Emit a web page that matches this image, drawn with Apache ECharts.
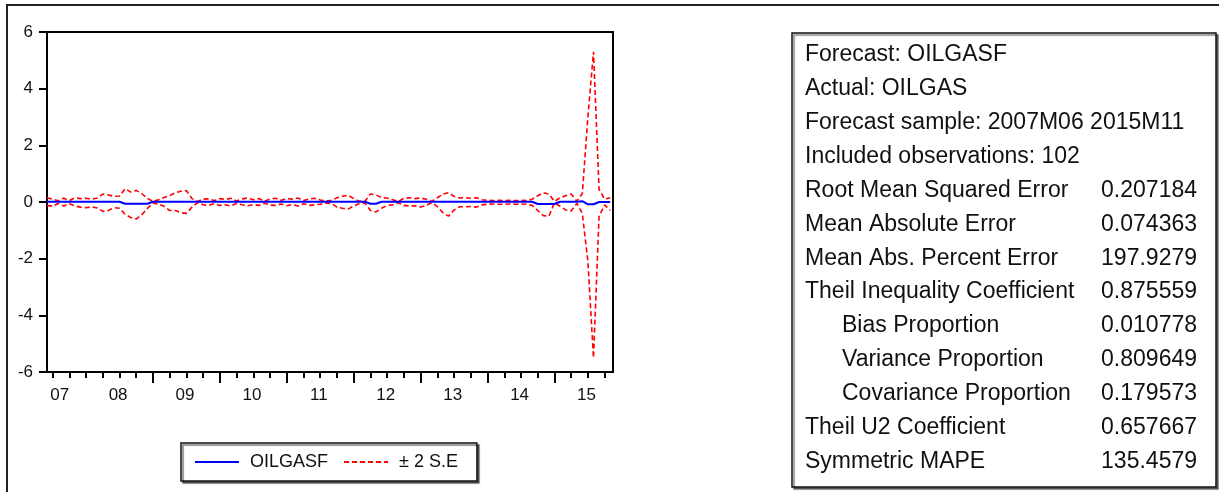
<!DOCTYPE html>
<html>
<head>
<meta charset="utf-8">
<script src="https://cdn.jsdelivr.net/npm/echarts@6/dist/echarts.min.js"></script>
<style>
html,body{margin:0;padding:0;background:#fff;}
#c{width:1219px;height:492px;}
</style>
</head>
<body>
<div id="c"></div>
<script>
// ---- data ----
// monthly observations 2007M06 .. 2015M11 (102), index 0 = 2007M06
const forecast = [
  0.01,0.01,0.01,0.01,0.01,0.01,0.01,0.01,0.01,0.01,
  0.01,0.01,0.01,0.01,-0.06,-0.06,-0.06,-0.06,-0.06,0.01,
  0.01,0.01,0.01,0.01,0.01,0.01,0.01,0.01,0.01,0.01,
  0.01,0.01,0.01,0.01,0.01,0.01,0.01,0.01,0.01,0.01,
  0.01,0.01,0.01,0.01,0.01,0.01,0.01,0.01,0.01,0.01,
  0.01,0.01,0.01,0.01,0.01,0.01,0.01,0.01,-0.06,-0.06,
  0.01,0.01,0.01,0.01,0.01,0.01,0.01,0.01,0.01,0.01,
  0.01,0.01,0.01,0.01,0.01,0.01,0.01,0.01,0.01,0.01,
  0.01,0.01,0.01,0.01,0.01,0.01,0.01,0.01,-0.07,-0.07,
  -0.07,-0.07,0.01,0.01,0.01,0.01,0.03,-0.08,-0.08,0.0,
  0.0,0.0
];
const upperSE = [
  0.15,0.10,0.04,0.13,0.05,0.15,0.12,0.13,0.10,0.14,
  0.28,0.25,0.20,0.21,0.47,0.35,0.41,0.30,0.13,0.02,
  0.08,0.16,0.22,0.33,0.38,0.40,0.12,0.02,0.10,0.11,
  0.05,0.12,0.09,0.13,0.04,0.11,0.14,0.08,0.12,0.03,
  0.10,0.13,0.06,0.12,0.10,0.14,0.05,0.11,0.13,0.07,
  0.04,0.05,0.15,0.20,0.24,0.12,0.03,0.02,0.28,0.25,
  0.15,0.14,0.08,0.02,0.13,0.15,0.12,0.14,0.10,0.02,
  0.15,0.28,0.33,0.20,0.14,0.15,0.13,0.15,0.08,0.06,
  0.05,0.06,0.05,0.06,0.05,0.06,0.05,0.10,0.22,0.33,
  0.28,0.02,0.15,0.22,0.28,0.03,0.30,3.00,5.30,0.45,
  0.10,0.15
];
const lowerSE = [
  -0.12,-0.15,-0.05,-0.14,-0.06,-0.14,-0.18,-0.20,-0.17,-0.21,
  -0.33,-0.30,-0.20,-0.22,-0.43,-0.55,-0.60,-0.45,-0.23,-0.03,
  -0.08,-0.15,-0.30,-0.30,-0.38,-0.40,-0.18,-0.02,-0.10,-0.12,
  -0.06,-0.12,-0.10,-0.14,-0.05,-0.10,-0.13,-0.09,-0.12,-0.04,
  -0.11,-0.12,-0.07,-0.13,-0.09,-0.14,-0.06,-0.12,-0.10,-0.08,
  -0.04,-0.05,-0.18,-0.22,-0.25,-0.14,-0.05,-0.03,-0.30,-0.35,
  -0.22,-0.12,-0.10,-0.03,-0.12,-0.14,-0.13,-0.18,-0.12,-0.02,
  -0.16,-0.38,-0.50,-0.28,-0.17,-0.17,-0.16,-0.18,-0.10,-0.08,
  -0.07,-0.08,-0.08,-0.07,-0.08,-0.07,-0.08,-0.12,-0.30,-0.48,
  -0.50,-0.03,-0.15,-0.28,-0.32,-0.05,-0.40,-2.10,-5.50,-0.50,
  -0.10,-0.30
];
// axis ticks / labels (month index positions)
const quarterTicks = [1,4,7,10,13,16,22,25,28,34,37,40,46,49,52,58,61,64,70,73,76,82,85,88,94,97,100];
const yearTicks = [19,31,43,55,67,79,91];
const yearLabels = ['07','08','09','10','11','12','13','14','15'];
const yearLabelPos = [2.3,12.75,24.75,36.75,48.75,60.75,72.75,84.75,96.75];
const yTicks = {min:-6, max:6, step:2};

const statLabels = ['Forecast: OILGASF','Actual: OILGAS','Forecast sample: 2007M06 2015M11','Included observations: 102',
  'Root Mean Squared Error','Mean Absolute Error','Mean Abs. Percent Error','Theil Inequality Coefficient',
  'Bias Proportion','Variance Proportion','Covariance Proportion','Theil U2 Coefficient','Symmetric MAPE'];
const statValues = ['','','','','0.207184','0.074363','197.9279','0.875559','0.010778','0.809649','0.179573','0.657667','135.4579'];
const statIndented = [false,false,false,false,false,false,false,false,true,true,true,false,false];

// ---- chart ----
const FONT = "'Liberation Sans', Arial, sans-serif";
const toXY = arr => arr.map((v, i) => [i, v]);
const labelMap = {};
yearLabelPos.forEach((p, k) => { labelMap[p] = yearLabels[k]; });

const statGraphics = [];
statLabels.forEach((t, k) => {
  const y = 55 + 33.86 * k;
  statGraphics.push({type:'text', x: statIndented[k] ? 842 : 805, y: y,
    style:{text:t, font:"23px " + FONT, fill:'#111', textAlign:'left', textVerticalAlign:'middle'}, silent:true});
  if (statValues[k]) statGraphics.push({type:'text', x: 1197, y: y,
    style:{text:statValues[k], font:"23px " + FONT, fill:'#111', textAlign:'right', textVerticalAlign:'middle'}, silent:true});
});

const axisColor = '#000';
const chart = echarts.init(document.getElementById('c'), null, {renderer:'canvas'});
chart.setOption({
  animation:false,
  backgroundColor:'#fff',
  grid:{left:47, right:606, top:32, bottom:120, show:true, borderColor:'#000', borderWidth:2, containLabel:false},
  xAxis:[
    {type:'value', min:0, max:101.5, position:'bottom', offset:0,
     axisLine:{show:true, onZero:false, lineStyle:{color:axisColor, width:2}},
     axisTick:{show:true, customValues:quarterTicks, length:6, lineStyle:{color:axisColor, width:2}},
     axisLabel:{show:false}, splitLine:{show:false}},
    {type:'value', min:0, max:101.5, position:'bottom', offset:0,
     axisLine:{show:false, onZero:false},
     axisTick:{show:true, customValues:yearTicks, length:11, lineStyle:{color:axisColor, width:2}},
     axisLabel:{show:true, customValues:yearLabelPos, formatter:v => labelMap[v] || '',
       margin:15, fontSize:17, fontFamily:FONT, color:'#111'},
     splitLine:{show:false}}
  ],
  yAxis:{type:'value', min:yTicks.min, max:yTicks.max, interval:yTicks.step,
    axisLine:{show:true, onZero:false, lineStyle:{color:axisColor, width:2}},
    axisTick:{show:true, length:8, lineStyle:{color:axisColor, width:2}},
    axisLabel:{margin:14, fontSize:17, fontFamily:FONT, color:'#111'},
    splitLine:{show:false}},
  legend:{
    data:['OILGASF','± 2 S.E'],
    left:181, top:443, orient:'horizontal',
    itemWidth:44, itemHeight:14, itemGap:15,
    padding:[10,19,10,13],
    backgroundColor:'#fff', borderColor:'#111', borderWidth:1.5,
    shadowColor:'rgba(0,0,0,0.55)', shadowOffsetX:2, shadowOffsetY:2, shadowBlur:1,
    itemStyle:{opacity:0},
    textStyle:{fontSize:18, fontFamily:FONT, color:'#111', padding:[0,0,0,6]}
  },
  series:[
    {name:'± 2 S.E', type:'line', data:toXY(upperSE), symbol:'none', showSymbol:false,
     color:'#ff0000', lineStyle:{color:'#ff0000', width:1.6, type:[5,3]}, z:2},
    {name:'± 2 S.E', type:'line', data:toXY(lowerSE), symbol:'none', showSymbol:false,
     color:'#ff0000', lineStyle:{color:'#ff0000', width:1.6, type:[5,3]}, z:2},
    {name:'OILGASF', type:'line', data:toXY(forecast), symbol:'none', showSymbol:false,
     color:'#0000ff', lineStyle:{color:'#0000ff', width:2}, z:3}
  ],
  graphic:[
    {type:'rect', shape:{x:7, y:5, width:1260, height:540}, style:{fill:'none', stroke:'#222', lineWidth:2}, silent:true, z:0},
    {type:'rect', shape:{x:792, y:33, width:424, height:454},
     style:{fill:'#fff', stroke:'#111', lineWidth:1.5, shadowColor:'rgba(0,0,0,0.5)', shadowOffsetX:2, shadowOffsetY:2, shadowBlur:1}, silent:true, z:1},
    ...statGraphics.map(g => Object.assign(g, {z:2}))
  ]
});
</script>
</body>
</html>
